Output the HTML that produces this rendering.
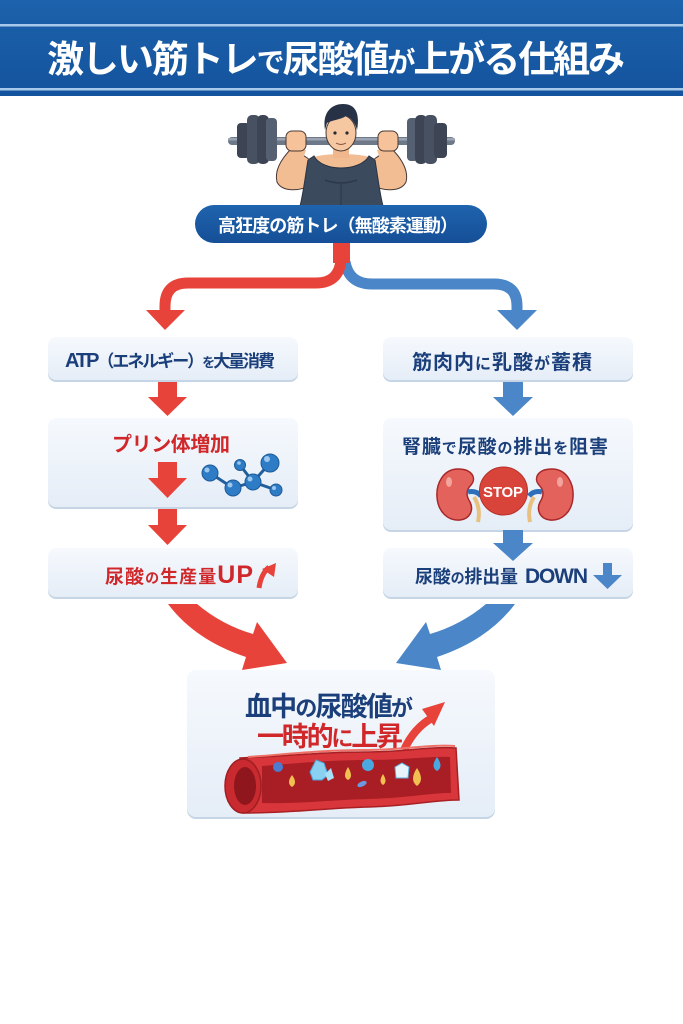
<!DOCTYPE html>
<html><head><meta charset="utf-8">
<style>
html,body{margin:0;padding:0;background:#fff;}
body{width:683px;height:1024px;overflow:hidden;}
svg{display:block;}
text{font-family:"Liberation Sans","Noto Sans CJK JP",sans-serif;font-weight:700;}
.jp{font-family:"Noto Sans CJK JP","Liberation Sans",sans-serif;}
</style></head>
<body>
<svg width="683" height="1024" viewBox="0 0 683 1024" xmlns="http://www.w3.org/2000/svg">
<defs>
  <linearGradient id="hdr" x1="0" y1="0" x2="0" y2="1">
    <stop offset="0" stop-color="#1d62ac"/><stop offset="1" stop-color="#14539d"/>
  </linearGradient>
  <linearGradient id="box" x1="0" y1="0" x2="0" y2="1">
    <stop offset="0" stop-color="#f6f9fd"/><stop offset="1" stop-color="#e5edf7"/>
  </linearGradient>
  <linearGradient id="pill" x1="0" y1="0" x2="0" y2="1">
    <stop offset="0" stop-color="#1f64ae"/><stop offset="1" stop-color="#154f97"/>
  </linearGradient>
</defs>

<!-- HEADER -->
<rect x="0" y="0" width="683" height="96" fill="url(#hdr)"/>
<rect x="0" y="24" width="683" height="2.5" fill="#a9c9ea"/>
<rect x="0" y="88" width="683" height="2.5" fill="#a9c9ea"/>
<text class="jp" x="47" y="72" font-size="37" fill="#fff" font-weight="900" textLength="578">激しい筋トレ<tspan font-size="28">で</tspan>尿酸値<tspan font-size="28">が</tspan>上がる仕組み</text>

<!-- MAN -->
<g>
  <rect x="228" y="137" width="227" height="8" rx="4" fill="#6d7888"/>
  <rect x="228" y="138" width="227" height="2.5" rx="1" fill="#9aa4b2"/>
  <rect x="237" y="123" width="13" height="35" rx="4" fill="#3d4554"/>
  <rect x="247" y="115" width="13" height="49" rx="5" fill="#485162"/>
  <rect x="257" y="115" width="12" height="49" rx="5" fill="#3d4554"/>
  <rect x="266" y="118" width="11" height="43" rx="4" fill="#556072"/>
  <rect x="407" y="118" width="11" height="43" rx="4" fill="#556072"/>
  <rect x="415" y="115" width="12" height="49" rx="5" fill="#3d4554"/>
  <rect x="424" y="115" width="13" height="49" rx="5" fill="#485162"/>
  <rect x="434" y="123" width="13" height="35" rx="4" fill="#3d4554"/>
  <path d="M292,148 C282,158 274,170 277,182 C282,192 300,192 312,184 L318,165 Z" fill="#f2bd93" stroke="#4a3a35" stroke-width="1"/>
  <path d="M391,148 C401,158 409,170 406,182 C401,192 383,192 371,184 L365,165 Z" fill="#f2bd93" stroke="#4a3a35" stroke-width="1"/>
  <path d="M288,145 L300,168 L306,150 Z" fill="#f2bd93"/>
  <path d="M395,145 L383,168 L377,150 Z" fill="#f2bd93"/>
  <path d="M306,160 C318,152 365,152 377,160 L382,186 L302,186 Z" fill="#f2bd93"/>
  <path d="M314,156 C322,172 360,172 369,156 L375,160 C378,178 380,195 383,206 L300,206 C303,195 305,178 308,160 Z" fill="#3c4a5e" stroke="#2a3444" stroke-width="1"/>
  <path d="M325,180 Q341,186 357,180" stroke="#2d394b" stroke-width="1.5" fill="none"/>
  <path d="M341,184 L341,205" stroke="#2d394b" stroke-width="1.2"/>
  <rect x="333" y="146" width="16" height="12" fill="#f0b78c"/>
  <ellipse cx="341" cy="133" rx="15" ry="18" fill="#f5c8a2" stroke="#4a3a35" stroke-width="1"/>
  <path d="M325,130 C322,112 332,104 343,104 C356,104 360,114 357,130 C355,122 350,117 346,116 C340,120 332,120 327,123 Z" fill="#283246"/>
  <circle cx="335" cy="133" r="1.6" fill="#2a2a2a"/>
  <circle cx="347" cy="133" r="1.6" fill="#2a2a2a"/>
  <path d="M336,143 Q341,146 346,143" stroke="#8a4a3a" stroke-width="1" fill="none"/>
  <rect x="286" y="131" width="20" height="20" rx="6" fill="#f5c29a" stroke="#4a3a35" stroke-width="1"/>
  <rect x="378" y="131" width="20" height="20" rx="6" fill="#f5c29a" stroke="#4a3a35" stroke-width="1"/>
</g>

<!-- PILL -->
<rect x="195" y="205" width="292" height="38" rx="19" fill="url(#pill)"/>
<text class="jp" x="218" y="232" font-size="18" fill="#fff" textLength="240">高狂度の筋トレ（無酸素運動）</text>

<!-- SPLIT CONNECTOR -->
<path d="M345,262 Q349,284 372,284 L494,284 Q517,284 517,306 L517,312" stroke="#4a86c8" stroke-width="11" fill="none"/>
<polygon points="497,310 537,310 517,330" fill="#4a86c8"/>
<rect x="333" y="243" width="17" height="20" fill="#e8433a"/>
<path d="M341,260 Q339,283 316,283 L188,283 Q165,283 165,306 L165,312" stroke="#e8433a" stroke-width="11" fill="none"/>
<polygon points="146,310 185,310 165,330" fill="#e8433a"/>

<!-- BOXES -->
<g>
  <rect x="48" y="339" width="250" height="43" rx="8" fill="#c6d5e6"/>
  <rect x="48" y="337" width="250" height="43" rx="8" fill="url(#box)"/>
  <rect x="383" y="339" width="250" height="43" rx="8" fill="#c6d5e6"/>
  <rect x="383" y="337" width="250" height="43" rx="8" fill="url(#box)"/>
  <rect x="48" y="420" width="250" height="89" rx="8" fill="#c6d5e6"/>
  <rect x="48" y="418" width="250" height="89" rx="8" fill="url(#box)"/>
  <rect x="383" y="420" width="250" height="112" rx="8" fill="#c6d5e6"/>
  <rect x="383" y="418" width="250" height="112" rx="8" fill="url(#box)"/>
  <rect x="48" y="550" width="250" height="49" rx="8" fill="#c6d5e6"/>
  <rect x="48" y="548" width="250" height="49" rx="8" fill="url(#box)"/>
  <rect x="383" y="550" width="250" height="49" rx="8" fill="#c6d5e6"/>
  <rect x="383" y="548" width="250" height="49" rx="8" fill="url(#box)"/>
  <rect x="187" y="672" width="308" height="147" rx="9" fill="#c6d5e6"/>
  <rect x="187" y="670" width="308" height="147" rx="9" fill="url(#box)"/>
</g>

<!-- LEFT TEXTS -->
<text x="65" y="367" font-size="17" fill="#1b3f7a" textLength="210"><tspan font-family="Liberation Sans" font-size="20">ATP</tspan><tspan class="jp">（エネルギー）</tspan><tspan class="jp" font-size="13">を</tspan><tspan class="jp">大量消費</tspan></text>
<text class="jp" x="112" y="451" font-size="20" fill="#d0282a" textLength="118">プリン体増加</text>
<text x="105" y="583" font-size="18" fill="#d0282a" textLength="148"><tspan class="jp" font-size="19">尿酸</tspan><tspan class="jp" font-size="14">の</tspan><tspan class="jp">生産量</tspan><tspan font-family="Liberation Sans" font-size="25">UP</tspan></text>
<path d="M259,588 Q261,574 269,567" stroke="#e8433a" stroke-width="5" fill="none"/>
<polygon points="262,569 276,563 274,577" fill="#e8433a"/>

<!-- RIGHT TEXTS -->
<text x="412" y="369" font-size="20" fill="#1b3f7a" textLength="180" class="jp">筋肉内<tspan font-size="16">に</tspan>乳酸<tspan font-size="16">が</tspan>蓄積</text>
<text x="402" y="453" font-size="19" fill="#1b3f7a" textLength="206" class="jp">腎臓<tspan font-size="15">で</tspan>尿酸<tspan font-size="15">の</tspan>排出<tspan font-size="15">を</tspan>阻害</text>
<text x="415" y="583" font-size="18" fill="#1b3f7a" textLength="103" class="jp">尿酸<tspan font-size="14">の</tspan>排出量</text>
<text x="525" y="583" font-size="21" fill="#1b3f7a" font-family="Liberation Sans" textLength="63">DOWN</text>
<rect x="603" y="563" width="9" height="13" fill="#4a86c8"/>
<polygon points="593,575 622,575 607.5,589" fill="#4a86c8"/>

<!-- MOLECULE -->
<g stroke="#1f5f9e" stroke-width="3">
  <line x1="210" y1="473" x2="233" y2="488"/>
  <line x1="233" y1="488" x2="253" y2="482"/>
  <line x1="240" y1="465" x2="253" y2="482"/>
  <line x1="253" y1="482" x2="270" y2="463"/>
  <line x1="253" y1="482" x2="276" y2="490"/>
</g>
<g fill="#2f7cc6" stroke="#1d5a98" stroke-width="1">
  <circle cx="210" cy="473" r="8"/>
  <circle cx="233" cy="488" r="8"/>
  <circle cx="240" cy="465" r="5.5"/>
  <circle cx="253" cy="482" r="8"/>
  <circle cx="270" cy="463" r="9"/>
  <circle cx="276" cy="490" r="6"/>
</g>
<g fill="#9cc8f0">
  <circle cx="207" cy="470" r="2.5"/><circle cx="230" cy="485" r="2.5"/><circle cx="250" cy="479" r="2.5"/><circle cx="267" cy="459" r="3"/><circle cx="274" cy="488" r="2"/><circle cx="239" cy="463" r="1.8"/>
</g>

<!-- STEP ARROWS LEFT -->
<g fill="#e8433a">
  <rect x="158" y="382" width="19" height="16"/><polygon points="148,397 187,397 167.5,416"/>
  <rect x="158" y="462" width="19" height="17"/><polygon points="148,478 187,478 167.5,498"/>
  <rect x="158" y="509" width="19" height="17"/><polygon points="148,525 187,525 167.5,545"/>
</g>
<!-- STEP ARROWS RIGHT -->
<g fill="#4a86c8">
  <rect x="503" y="382" width="20" height="16"/><polygon points="493,397 533,397 513,416"/>
  <rect x="503" y="530" width="20" height="14"/><polygon points="493,543 533,543 513,561"/>
</g>

<!-- KIDNEYS + STOP -->
<g>
  <path d="M458,469 C443,469 436,484 437,497 C438,512 448,521 460,520 C470,519 474,510 470,502 C466,496 466,490 471,485 C477,478 472,469 458,469 Z" fill="#e4625c" stroke="#a8282a" stroke-width="1.5"/>
  <ellipse cx="449" cy="482" rx="3" ry="5" fill="#f3a49c"/>
  <path d="M468,492 Q476,490 481,496" stroke="#2d6fb8" stroke-width="5" fill="none"/>
  <path d="M474,497 Q481,508 478,522" stroke="#e8c080" stroke-width="4" fill="none"/>
  <path d="M552,469 C567,469 574,484 573,497 C572,512 562,521 550,520 C540,519 536,510 540,502 C544,496 544,490 539,485 C533,478 538,469 552,469 Z" fill="#e4625c" stroke="#a8282a" stroke-width="1.5"/>
  <ellipse cx="560" cy="482" rx="3" ry="5" fill="#f3a49c"/>
  <path d="M542,492 Q534,490 529,496" stroke="#2d6fb8" stroke-width="5" fill="none"/>
  <path d="M534,497 Q527,508 530,522" stroke="#e8c080" stroke-width="4" fill="none"/>
  <circle cx="503.5" cy="491" r="24" fill="#d8443a" stroke="#b8302a" stroke-width="1"/>
  <text x="483" y="497" font-size="15" fill="#fff" font-family="Liberation Sans" textLength="40">STOP</text>
</g>

<!-- BIG CONVERGING ARROWS -->
<path d="M168,604 L197,604 Q222,625 253,634 L257,622 L287,663 L242,670 L246,657 Q195,640 168,604 Z" fill="#e8433a"/>
<path d="M515,604 L486,604 Q461,625 430,634 L426,622 L396,663 L441,670 L437,657 Q488,640 515,604 Z" fill="#4a86c8"/>

<!-- BOTTOM TEXT -->
<text x="245" y="716" font-size="27" fill="#1b3f7a" textLength="168" class="jp">血中<tspan font-size="22">の</tspan>尿酸値<tspan font-size="22">が</tspan></text>
<text x="257" y="746" font-size="27" fill="#d0282a" textLength="146" class="jp">一時的<tspan font-size="22">に</tspan>上昇</text>
<!-- curved red arrow -->
<path d="M404,750 Q414,728 432,718" stroke="#e8433a" stroke-width="8" fill="none"/>
<polygon points="422,709 445,702 434,726" fill="#e8433a"/>

<!-- BLOOD VESSEL -->
<g>
  <path d="M240,758 C290,756 320,752 365,752 C405,752 430,746 456,748 L459,800 C432,800 410,806 368,807 C325,808 295,813 243,813 Z" fill="#d8363a" stroke="#a82024" stroke-width="1.5"/>
  <path d="M262,766 C300,763 330,760 368,760 C405,760 428,756 450,757 L451,793 C428,793 408,798 368,799 C330,800 300,804 262,803 Z" fill="#a91e24"/>
  <path d="M248,757 C290,754 322,750 365,750 C405,750 430,744 455,746" stroke="#ee7066" stroke-width="2" fill="none"/>
  <ellipse cx="243" cy="786" rx="18" ry="27" fill="#c92a30" stroke="#a01e22" stroke-width="1.5"/>
  <ellipse cx="245" cy="786" rx="11" ry="19" fill="#8e161c"/>
  <circle cx="278" cy="767" r="5" fill="#4b7cd0"/>
  <path d="M292,775 Q286,783 292,787 Q298,783 292,775 Z" fill="#f2c050"/>
  <polygon points="310,772 316,760 324,763 328,775 322,780 313,780" fill="#8ad0f0" stroke="#4aa0d8" stroke-width="1"/>
  <polygon points="325,774 331,768 334,778 328,781" fill="#a8e0f8"/>
  <path d="M348,767 Q342,777 348,780 Q354,777 348,767 Z" fill="#f2c050"/>
  <circle cx="368" cy="765" r="6" fill="#4aa8e0"/>
  <ellipse cx="362" cy="784" rx="5" ry="2.5" fill="#6a9ae0" transform="rotate(-25 362 784)"/>
  <path d="M383,774 Q378,782 383,785 Q388,782 383,774 Z" fill="#f2c050"/>
  <polygon points="402,763 409,767 408,778 396,778 395,767" fill="#e8f4fc" stroke="#5ab0e0" stroke-width="1"/>
  <path d="M417,768 Q409,780 417,786 Q425,780 417,768 Z" fill="#f2c050"/>
  <path d="M437,757 Q430,767 437,771 Q444,767 437,757 Z" fill="#4aa8e0"/>
</g>
</svg>
</body></html>
